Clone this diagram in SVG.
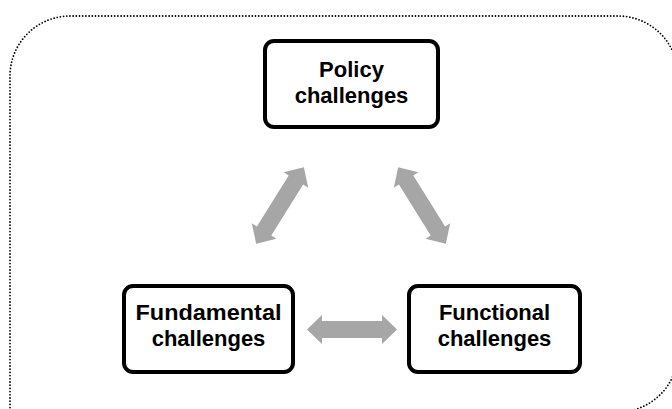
<svg xmlns="http://www.w3.org/2000/svg" width="672" height="409" viewBox="0 0 672 409">
<defs>
<style>
.frame{fill:none;stroke:#000;stroke-width:1.8;stroke-linecap:round;stroke-dasharray:0 3.2}
.box{fill:#fff;stroke:#000;stroke-width:4}
.lbl{font-family:"Liberation Sans",Arial,sans-serif;font-weight:bold;font-size:22px;fill:#000;text-anchor:middle}
.arr{fill:#a6a6a6}
</style>
<path id="dbl" d="M-45 0 L-30 -14.5 L-30 -8.5 L30 -8.5 L30 -14.5 L45 0 L30 14.5 L30 8.5 L-30 8.5 L-30 14.5 Z"/>
</defs>
<rect width="672" height="409" fill="#fff"/>
<path class="frame" d="M10 430 L10 76 A60 60 0 0 1 70 16 L618 16 A60 60 0 0 1 678 76 L678 352 A60 60 0 0 1 618 412 L40 412"/>
<g id="connectors" class="arr">
<use href="#dbl" transform="translate(280 205.5) rotate(-58)"/>
<use href="#dbl" transform="translate(422 205.5) rotate(58)"/>
<use href="#dbl" transform="translate(352 329.5)"/>
</g>
<g id="policy">
<rect class="box" x="265" y="41" width="173" height="86" rx="9"/>
<text class="lbl" x="351.5" y="77">Policy</text>
<text class="lbl" x="351.5" y="103">challenges</text>
</g>
<g id="fundamental">
<rect class="box" x="124" y="286" width="169" height="86" rx="9"/>
<text class="lbl" x="208.5" y="320" textLength="146" lengthAdjust="spacingAndGlyphs">Fundamental</text>
<text class="lbl" x="208.5" y="346">challenges</text>
</g>
<g id="functional">
<rect class="box" x="409" y="286" width="171" height="86" rx="9"/>
<text class="lbl" x="494.5" y="320">Functional</text>
<text class="lbl" x="494.5" y="346">challenges</text>
</g>
</svg>
